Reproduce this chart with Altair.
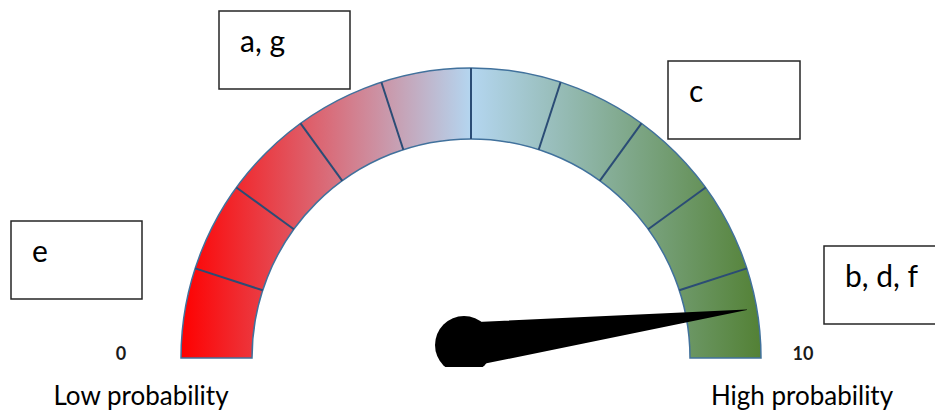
import math
import altair as alt
import pandas as pd

# ---------------- data ----------------
scale_min, scale_max = 0, 10
divider_values = [1, 2, 3, 4, 5, 6, 7, 8, 9]
end_tick_values = [0, 10]
end_tick_labels = ["0", "10"]
end_captions = ["Low probability", "High probability"]
needle_value = 9.45
box_labels = ["a, g", "c", "e", "b, d, f"]

# ---------------- layout (page pixels) ----------------
CW, CH = 927, 404            # chart size
OX, OY = 8, 8                # page margin
CX, CY = 471, 358            # gauge centre
R_OUT, R_IN = 290, 219       # gauge radii
NEEDLE_LEN = 280
PIVOT = (464, 345)
PIVOT_D = 58
NEEDLE_W = 45
CUT_Y = 367

box_rects = [(219, 11, 350, 89), (668, 61, 800, 139), (11, 221, 142, 299), (824, 246, 990, 324)]
tick_pos = [(121, 360), (803, 360)]
caption_pos = [(141, 405), (802, 405)]

FONT = "Lato"

xs = alt.Scale(domain=[OX, OX + CW])
ys = alt.Scale(domain=[OY, OY + CH], reverse=True)


def X(f):
    return alt.X(f, type="quantitative", scale=xs, axis=None)


def Y(f):
    return alt.Y(f, type="quantitative", scale=ys, axis=None)


def angle(v):
    return math.pi * (1 - (v - scale_min) / (scale_max - scale_min))


gradient = alt.LinearGradient(
    gradient="linear",
    stops=[
        alt.GradientStop(color="#ff0000", offset=0),
        alt.GradientStop(color="#b4d6f0", offset=0.5),
        alt.GradientStop(color="#538135", offset=1),
    ],
    x1=0, x2=1, y1=0, y2=0,
)

arc_df = pd.DataFrame({"cx": [CX], "cy": [CY]})
arc = alt.Chart(arc_df).mark_arc(
    theta=1.5 * math.pi, theta2=2.5 * math.pi,
    radius=R_OUT, radius2=R_IN,
    fill=gradient, stroke="#41719c", strokeWidth=1.5,
).encode(x=X("cx"), y=Y("cy"))

div_df = pd.DataFrame({
    "v": divider_values,
    "x": [CX + R_IN * math.cos(angle(v)) for v in divider_values],
    "y": [CY - R_IN * math.sin(angle(v)) for v in divider_values],
    "x2": [CX + R_OUT * math.cos(angle(v)) for v in divider_values],
    "y2": [CY - R_OUT * math.sin(angle(v)) for v in divider_values],
})
dividers = alt.Chart(div_df).mark_rule(color="#2b4c75", strokeWidth=2).encode(
    x=X("x"), y=Y("y"), x2="x2:Q", y2="y2:Q"
)

needle_df = pd.DataFrame({
    "x": [PIVOT[0], CX + NEEDLE_LEN * math.cos(angle(needle_value))],
    "y": [PIVOT[1], CY - NEEDLE_LEN * math.sin(angle(needle_value))],
    "w": [NEEDLE_W, 0.5],
    "o": [0, 1],
})
needle = alt.Chart(needle_df).mark_trail(color="black").encode(
    x=X("x"), y=Y("y"), size=alt.Size("w:Q", scale=None, legend=None), order="o:Q"
)
pivot = alt.Chart(pd.DataFrame({"x": [PIVOT[0]], "y": [PIVOT[1]]})).mark_circle(
    size=PIVOT_D ** 2, color="black", opacity=1
).encode(x=X("x"), y=Y("y"))
cover = alt.Chart(pd.DataFrame({"x": [400], "x2": [560], "y": [CUT_Y], "y2": [385]})).mark_rect(
    color="white"
).encode(x=X("x"), x2="x2:Q", y=Y("y"), y2="y2:Q")

box_df = pd.DataFrame({
    "label": box_labels,
    "x": [b[0] for b in box_rects],
    "y": [b[1] for b in box_rects],
    "x2": [b[2] for b in box_rects],
    "y2": [b[3] for b in box_rects],
})
box_df["tx"] = box_df["x"] + 21
box_df["ty"] = box_df["y"] + 41
boxes = alt.Chart(box_df).mark_rect(fill="white", stroke="#262626", strokeWidth=1.5).encode(
    x=X("x"), x2="x2:Q", y=Y("y"), y2="y2:Q"
)
box_text = alt.Chart(box_df).mark_text(
    align="left", baseline="alphabetic", font=FONT, fontSize=30, color="black"
).encode(x=X("tx"), y=Y("ty"), text="label:N")

tick_df = pd.DataFrame({
    "label": end_tick_labels,
    "v": end_tick_values,
    "x": [p[0] for p in tick_pos],
    "y": [p[1] for p in tick_pos],
})
ticks = alt.Chart(tick_df).mark_text(
    align="center", baseline="alphabetic", font=FONT, fontSize=18, fontWeight="bold", color="#1a1a1a"
).encode(x=X("x"), y=Y("y"), text="label:N")

cap_df = pd.DataFrame({
    "label": end_captions,
    "x": [p[0] for p in caption_pos],
    "y": [p[1] for p in caption_pos],
})
captions = alt.Chart(cap_df).mark_text(
    align="center", baseline="alphabetic", font=FONT, fontSize=26, color="black"
).encode(x=X("x"), y=Y("y"), text="label:N")

chart = alt.layer(
    arc, dividers, needle, pivot, cover, boxes, box_text, ticks, captions
).properties(
    width=CW, height=CH, padding=0, autosize=alt.AutoSizeParams(type="none")
).configure_view(stroke=None)

chart.save("out.html", embed_options={"renderer": "svg", "actions": False})
